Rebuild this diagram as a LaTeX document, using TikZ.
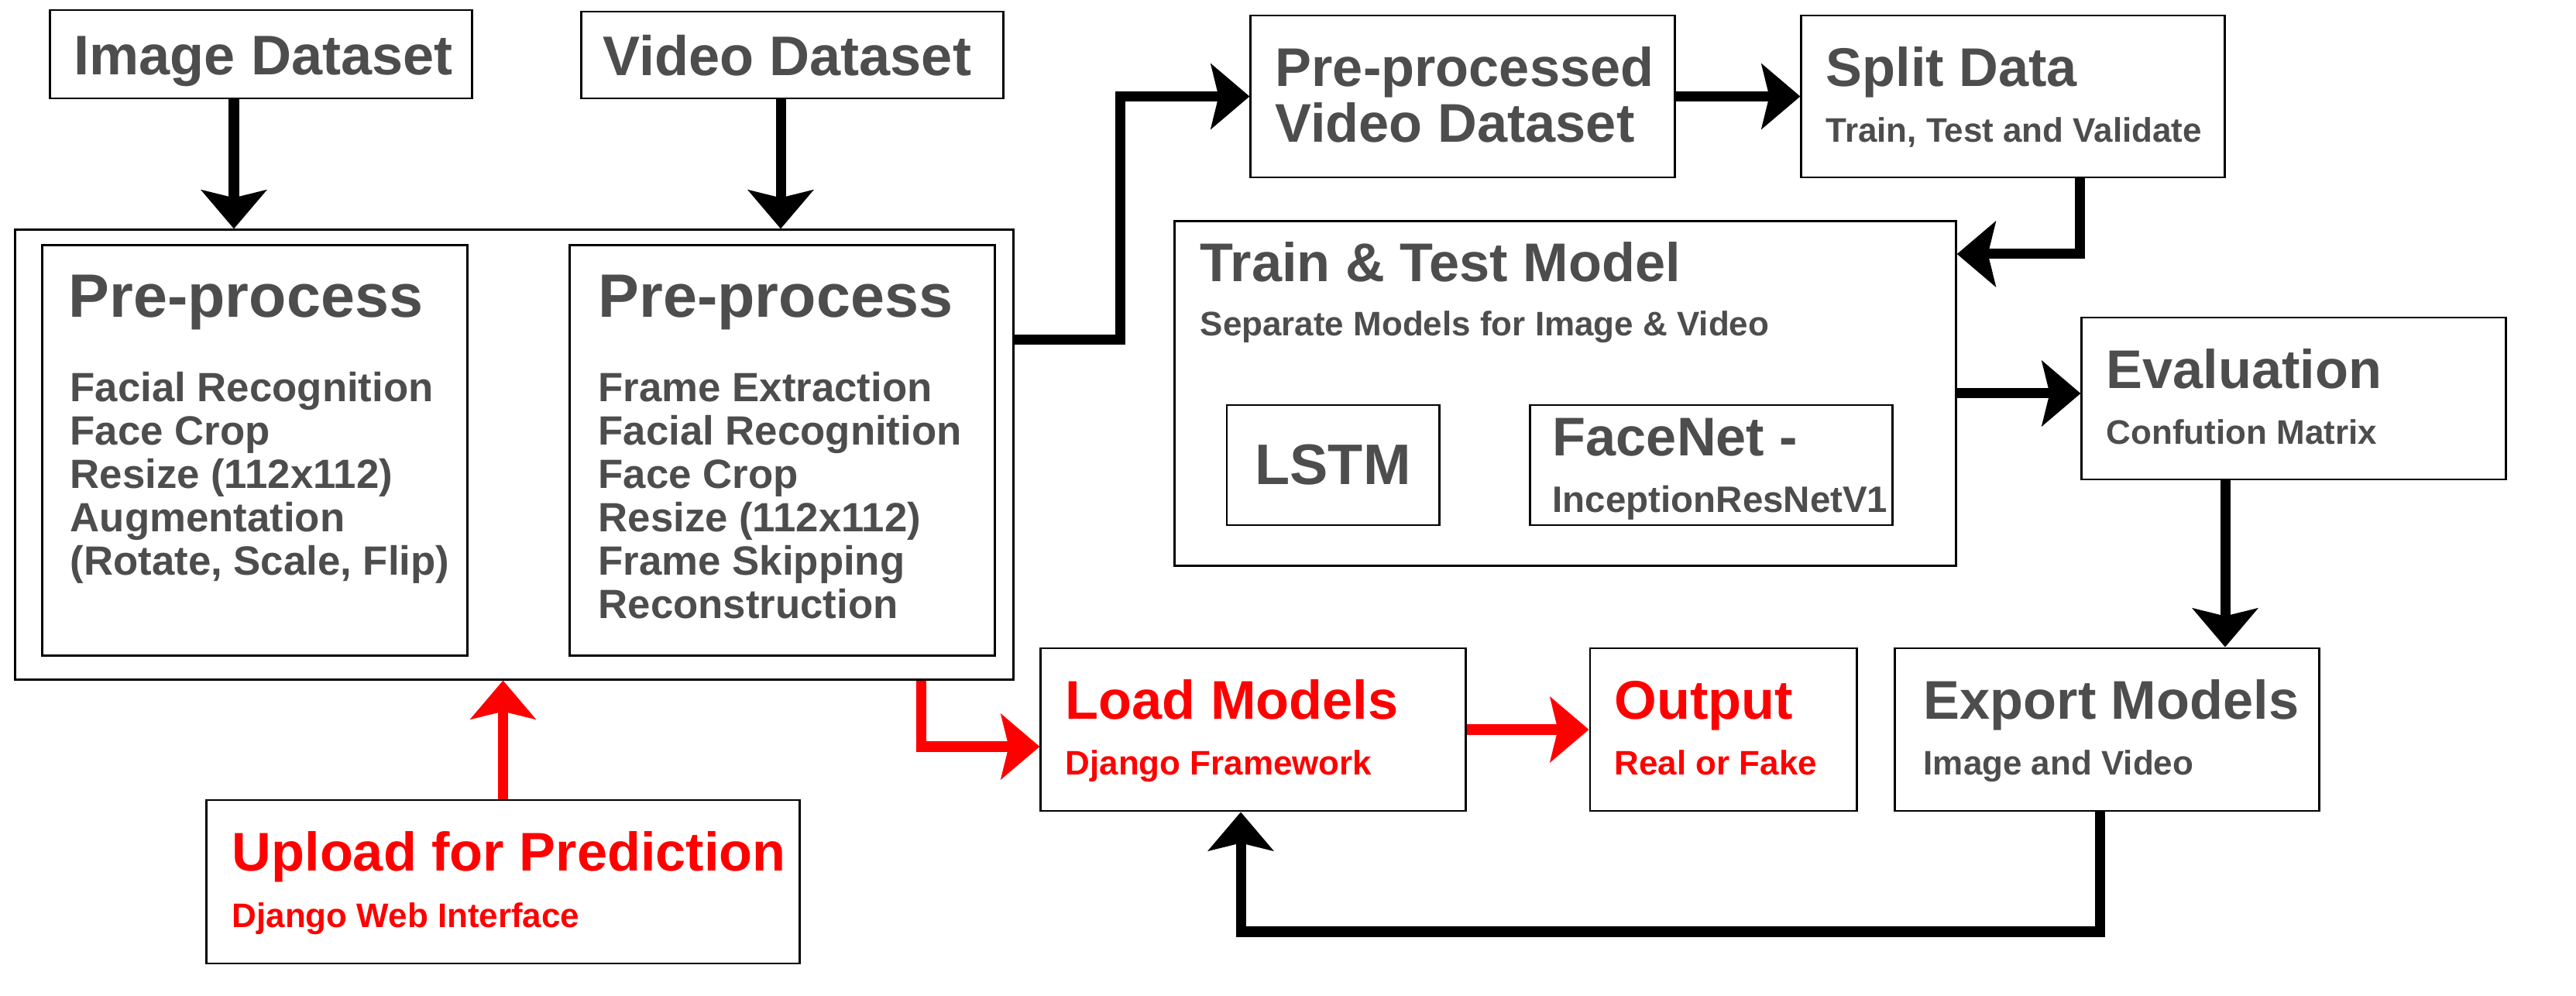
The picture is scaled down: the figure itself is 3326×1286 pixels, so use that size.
\documentclass[tikz,border=0pt]{standalone}
\usepackage{fontspec}
\setmainfont{Liberation Sans}
\usepackage{tikz}
\usetikzlibrary{positioning, arrows.meta}
\usepackage{xcolor}
\definecolor{dfText}{HTML}{4D4D4D}
\definecolor{dfRed}{HTML}{FF0000}

\begin{document}
\begin{tikzpicture}[x=0.01cm, y=-0.01cm,
    box/.style={draw=black, line width=0.8pt, fill=white, inner sep=0pt},
    hdr/.style={box, font=\fontsize{20}{24}\selectfont\bfseries, text=dfText},
    big/.style={anchor=base west, inner sep=0pt, font=\fontsize{22.5}{27}\selectfont\bfseries, text=dfText},
    ttl/.style={anchor=base west, inner sep=0pt, font=\fontsize{20}{24}\selectfont\bfseries, text=dfText},
    sub/.style={anchor=base west, inner sep=0pt, font=\fontsize{12.5}{15}\selectfont\bfseries, text=dfText},
    item/.style={anchor=base west, inner sep=0pt, font=\fontsize{15}{18}\selectfont\bfseries, text=dfText},
    conn/.style={line width=3.7pt, -{Stealth[length=5mm, width=8.4mm, inset=1mm]}}]
  \useasboundingbox (0,0) rectangle (3326,1286);
  % Datasets
  \node[box, minimum width=5.44cm, minimum height=1.14cm] (imgds) at (337,70) {};
  \node[ttl, font=\fontsize{20.5}{24}\selectfont\bfseries] (imgdst) at (95,97) {Image Dataset};
  \node[box, minimum width=5.44cm, minimum height=1.12cm] (vidds) at (1023,71) {};
  \node[ttl, font=\fontsize{20.5}{24}\selectfont\bfseries] (viddst) at (778,98) {Video Dataset};
  % Pre-process
  \node[box, minimum width=12.88cm, minimum height=5.80cm] (outer) at (664,587) {};
  \node[box, minimum width=5.48cm, minimum height=5.29cm] (ppl) at (329,581.5) {};
  \node[box, minimum width=5.48cm, minimum height=5.29cm] (ppr) at (1010,581.5) {};
  \node[big] (pplt) at (88,410) {Pre-process};
  \node[big] (pprt) at (772,410) {Pre-process};
  \foreach \txt [count=\i] in {Facial Recognition, Face Crop, {Resize (112x112)}, Augmentation, {(Rotate, Scale, Flip)}}
    \node[item] (pl\i) at (90,463+56*\i) {\txt};
  \foreach \txt [count=\i] in {Frame Extraction, Facial Recognition, Face Crop, {Resize (112x112)}, Frame Skipping, Reconstruction}
    \node[item] (pr\i) at (772,463+56*\i) {\txt};
  % Training
  \node[box, minimum width=5.47cm, minimum height=2.09cm] (prepro) at (1888.5,124.5) {};
  \node[ttl] (prepro1) at (1646,112) {Pre-processed};
  \node[ttl] (prepro2) at (1646,184) {Video Dataset};
  \node[box, minimum width=5.46cm, minimum height=2.09cm] (split) at (2599,124.5) {};
  \node[ttl] (splitt) at (2357,112) {Split Data};
  \node[sub] (splits) at (2357,184) {Train, Test and Validate};
  \node[box, minimum width=10.08cm, minimum height=4.44cm] (train) at (2021,508) {};
  \node[ttl] (traint) at (1549,364) {Train \& Test Model};
  \node[sub] (trains) at (1549,434) {Separate Models for Image \& Video};
  \node[hdr, minimum width=2.74cm, minimum height=1.55cm, font=\fontsize{21}{25}\selectfont\bfseries] (lstm) at (1721,600.5) {LSTM};
  \node[box, minimum width=4.67cm, minimum height=1.55cm] (facenet) at (2209.5,600.5) {};
  \node[ttl] (facenett) at (2004,589) {FaceNet -};
  \node[sub, font=\fontsize{13.5}{16}\selectfont\bfseries] (facenets) at (2004,662) {InceptionResNetV1};
  \node[box, minimum width=5.47cm, minimum height=2.09cm] (evalb) at (2961.5,514.5) {};
  \node[ttl] (evalt) at (2719,502) {Evaluation};
  \node[sub] (evals) at (2719,574) {Confution Matrix};
  % Prediction
  \node[box, minimum width=7.65cm, minimum height=2.11cm] (upload) at (649.5,1138.5) {};
  \node[ttl, text=dfRed] (uploadt) at (299,1125) {Upload for Prediction};
  \node[sub, text=dfRed] (uploads) at (299,1198) {Django Web Interface};
  \node[box, minimum width=5.48cm, minimum height=2.10cm] (load) at (1618,942) {};
  \node[ttl, text=dfRed] (loadt) at (1375,929) {Load Models};
  \node[sub, text=dfRed] (loads) at (1375,1001) {Django Framework};
  \node[box, minimum width=3.44cm, minimum height=2.10cm] (output) at (2225,942) {};
  \node[ttl, text=dfRed] (outputt) at (2084,929) {Output};
  \node[sub, text=dfRed] (outputs) at (2084,1001) {Real or Fake};
  \node[box, minimum width=5.47cm, minimum height=2.10cm] (export) at (2720.5,942) {};
  \node[ttl] (exportt) at (2483,929) {Export Models};
  \node[sub] (exports) at (2483,1001) {Image and Video};
  % Connectors
  \coordinate (ia) at (302,0);
  \coordinate (va) at (1008,0);
  \coordinate (oa) at (1446,439);
  \coordinate (sa) at (2685,328);
  \coordinate (ea) at (2873,0);
  \coordinate (xa) at (2711,1203);
  \coordinate (xb) at (1602,1203);
  \coordinate (ra) at (1189,964);
  \draw[conn] (imgds.south -| ia) -- (ia |- outer.north);
  \draw[conn] (vidds.south -| va) -- (va |- outer.north);
  \draw[conn] (outer.east |- oa) -- (oa) |- (prepro.west);
  \draw[conn] (prepro.east) -- (split.west);
  \draw[conn] (split.south -| sa) -- (sa) -- (sa -| train.east);
  \draw[conn] (train.east) -- (train.east -| evalb.west);
  \draw[conn] (evalb.south -| ea) -- (ea |- export.north);
  \draw[conn] (export.south -| xa) -- (xa) -- (xb) -- (xb |- load.south);
  \draw[conn, dfRed] (upload.north) -- (upload.north |- outer.south);
  \draw[conn, dfRed] (outer.south -| ra) -- (ra) -- (ra -| load.west);
  \draw[conn, dfRed] (load.east) -- (output.west);
\end{tikzpicture}
\end{document}
